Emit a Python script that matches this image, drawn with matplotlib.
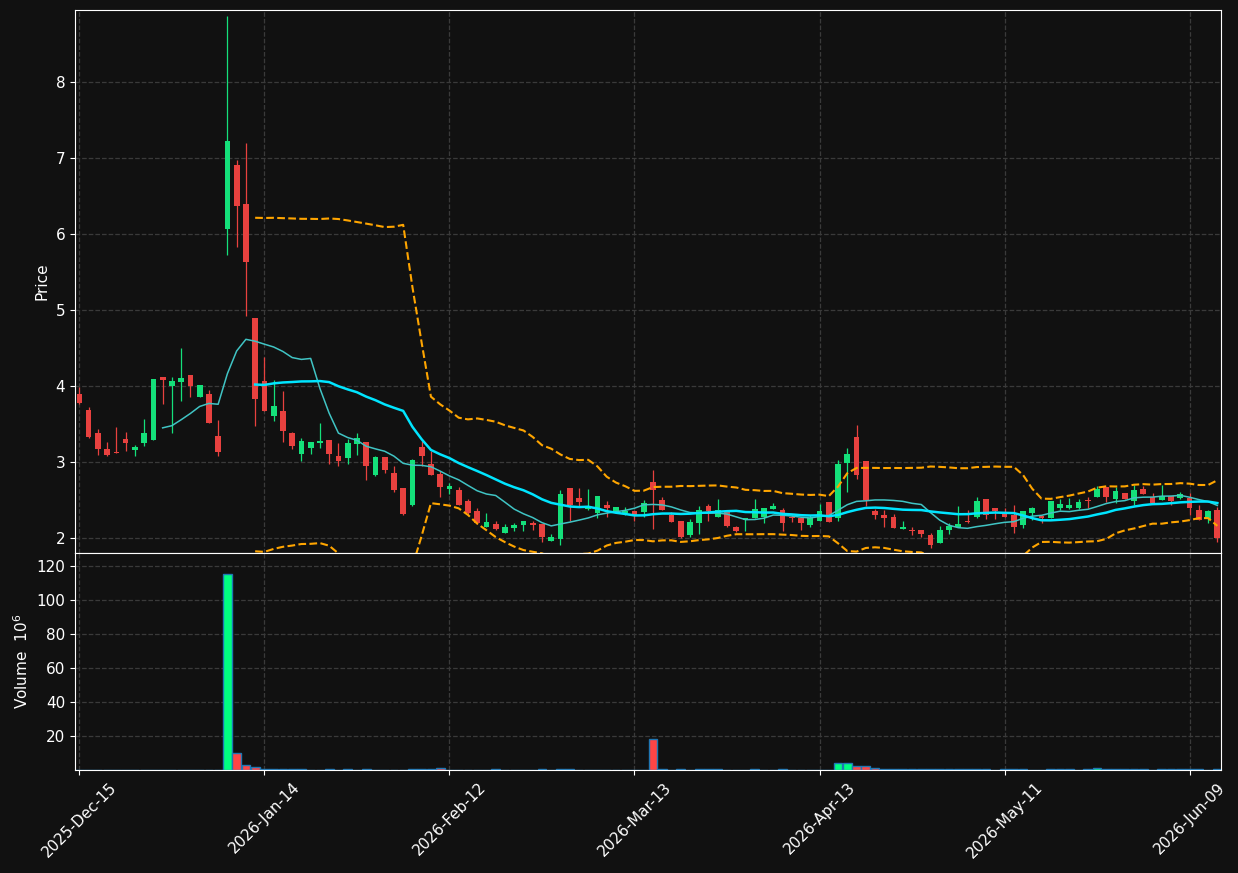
import numpy as np
import pandas as pd
import matplotlib
matplotlib.use("Agg")
from matplotlib import pyplot as plt

# trading days (US calendar)
holidays = ["2025-12-25", "2026-01-01", "2026-01-19", "2026-02-16", "2026-04-03", "2026-05-25"]
dates = pd.bdate_range("2025-12-15", "2026-06-12", freq="C", holidays=holidays)

opens = [3.90, 3.69, 3.385, 3.174, 3.13, 3.306, 3.165, 3.254, 3.296, 4.12,
         4.006, 4.057, 4.147, 3.86, 3.90, 3.343, 6.073, 6.91, 6.393, 4.898,
         4.062, 3.611, 3.672, 3.38, 3.113, 3.19, 3.25, 3.29, 3.08, 3.057,
         3.24, 3.266, 2.831, 3.064, 2.853, 2.659, 2.435, 3.20, 2.971, 2.844,
         2.646, 2.633, 2.488, 2.356, 2.149, 2.184, 2.07, 2.136, 2.176, 2.20,
         2.184, 1.965, 1.991, 2.659, 2.527, 2.387, 2.334, 2.435, 2.36, 2.325,
         2.356, 2.347, 2.738, 2.501, 2.303, 2.224, 2.04, 2.20, 2.422, 2.281,
         2.343, 2.145, 2.237, 2.259, 2.281, 2.382, 2.369, 2.27, 2.268, 2.176,
         2.229, 2.475, 2.268, 2.993, 3.332, 3.015, 2.356, 2.303, 2.277, 2.114,
         2.10, 2.105, 2.04, 1.938, 2.105, 2.149, 2.22, 2.281, 2.514, 2.396,
         2.343, 2.303, 2.176, 2.325, 2.295, 2.268, 2.396, 2.396, 2.40, 2.49,
         2.545, 2.677, 2.514, 2.589, 2.492, 2.646, 2.536, 2.501, 2.554, 2.532,
         2.532, 2.369, 2.246, 2.369]
highs = [3.99, 3.72, 3.43, 3.26, 3.46, 3.395, 3.23, 3.57, 4.095, 4.12,
         4.12, 4.50, 4.147, 4.015, 3.945, 3.55, 8.865, 6.98, 7.196, 4.898,
         4.38, 4.085, 3.93, 3.395, 3.32, 3.263, 3.51, 3.29, 3.25, 3.30,
         3.385, 3.266, 3.077, 3.064, 2.945, 2.659, 3.046, 3.279, 3.152, 2.888,
         2.72, 2.677, 2.514, 2.396, 2.33, 2.224, 2.18, 2.193, 2.224, 2.224,
         2.184, 2.06, 2.633, 2.659, 2.659, 2.646, 2.554, 2.483, 2.409, 2.409,
         2.356, 2.50, 2.897, 2.536, 2.347, 2.224, 2.246, 2.422, 2.448, 2.519,
         2.343, 2.158, 2.268, 2.51, 2.393, 2.457, 2.39, 2.31, 2.268, 2.303,
         2.448, 2.475, 3.029, 3.182, 3.49, 3.015, 2.382, 2.369, 2.316, 2.229,
         2.149, 2.105, 2.062, 2.158, 2.193, 2.422, 2.369, 2.536, 2.514, 2.396,
         2.396, 2.431, 2.356, 2.413, 2.303, 2.488, 2.51, 2.523, 2.51, 2.536,
         2.686, 2.677, 2.668, 2.589, 2.695, 2.686, 2.589, 2.695, 2.554, 2.602,
         2.589, 2.431, 2.369, 2.413]
lows = [3.77, 3.32, 3.10, 3.075, 3.12, 3.14, 3.08, 3.21, 3.296, 3.77,
        3.38, 3.81, 3.86, 3.86, 3.51, 3.075, 5.72, 5.83, 4.92, 3.48,
        3.677, 3.545, 3.27, 3.17, 3.01, 3.11, 3.19, 2.98, 2.95, 2.97,
        3.09, 2.765, 2.822, 2.853, 2.611, 2.308, 2.426, 2.95, 2.835, 2.545,
        2.58, 2.43, 2.32, 2.185, 2.149, 2.105, 2.07, 2.097, 2.097, 2.11,
        1.952, 1.965, 1.912, 2.229, 2.422, 2.369, 2.264, 2.281, 2.36, 2.303,
        2.22, 2.281, 2.114, 2.365, 2.215, 1.996, 2.018, 2.06, 2.22, 2.281,
        2.141, 2.084, 2.097, 2.259, 2.20, 2.382, 2.097, 2.207, 2.105, 2.149,
        2.229, 2.215, 2.229, 2.611, 2.782, 2.422, 2.246, 2.141, 2.136, 2.114,
        2.04, 2.018, 1.864, 1.938, 2.053, 2.149, 2.20, 2.259, 2.246, 2.246,
        2.281, 2.07, 2.127, 2.237, 2.20, 2.268, 2.369, 2.378, 2.387, 2.40,
        2.545, 2.479, 2.457, 2.514, 2.435, 2.578, 2.466, 2.501, 2.431, 2.519,
        2.303, 2.237, 2.20, 1.952]
closes = [3.78, 3.33, 3.174, 3.094, 3.12, 3.245, 3.20, 3.385, 4.095, 4.085,
          4.067, 4.109, 4.00, 4.015, 3.52, 3.136, 7.225, 6.37, 5.627, 3.836,
          3.677, 3.738, 3.41, 3.215, 3.277, 3.263, 3.277, 3.11, 3.014, 3.254,
          3.315, 2.954, 3.064, 2.901, 2.637, 2.316, 3.029, 3.086, 2.835, 2.677,
          2.686, 2.44, 2.33, 2.193, 2.211, 2.123, 2.145, 2.176, 2.224, 2.178,
          2.018, 2.013, 2.58, 2.431, 2.479, 2.413, 2.554, 2.40, 2.409, 2.356,
          2.30, 2.457, 2.637, 2.365, 2.215, 2.013, 2.215, 2.367, 2.36, 2.367,
          2.163, 2.097, 2.268, 2.382, 2.393, 2.422, 2.193, 2.265, 2.20, 2.268,
          2.356, 2.215, 2.976, 3.108, 2.831, 2.501, 2.303, 2.264, 2.136, 2.149,
          2.097, 2.06, 1.912, 2.11, 2.163, 2.185, 2.215, 2.488, 2.303, 2.36,
          2.281, 2.149, 2.356, 2.396, 2.268, 2.488, 2.455, 2.435, 2.475, 2.488,
          2.646, 2.545, 2.62, 2.514, 2.633, 2.578, 2.466, 2.558, 2.488, 2.578,
          2.40, 2.237, 2.356, 2.004]
# volume in millions
volumes = [0.05, 0.05, 0.05, 0.05, 0.05, 0.05, 0.05, 0.05, 0.05, 0.05,
           0.05, 0.05, 0.05, 0.05, 0.05, 0.05, 115.5, 9.8, 2.7, 2.0,
           0.8, 0.8, 0.4, 0.4, 0.4, 0.05, 0.05, 0.3, 0.05, 0.3,
           0.05, 0.3, 0.05, 0.05, 0.05, 0.05, 0.3, 0.3, 0.3, 1.2,
           0.05, 0.05, 0.05, 0.05, 0.05, 0.3, 0.05, 0.05, 0.05, 0.05,
           0.3, 0.05, 0.3, 0.3, 0.05, 0.05, 0.05, 0.05, 0.05, 0.05,
           0.05, 0.05, 18.5, 0.4, 0.05, 0.3, 0.05, 0.3, 0.3, 0.3,
           0.05, 0.05, 0.05, 0.3, 0.05, 0.05, 0.3, 0.05, 0.05, 0.05,
           0.05, 0.05, 4.0, 4.0, 2.6, 2.6, 1.0, 0.3, 0.3, 0.3,
           0.3, 0.3, 0.3, 0.3, 0.3, 0.3, 0.3, 0.3, 0.3, 0.05,
           0.3, 0.3, 0.3, 0.05, 0.05, 0.3, 0.3, 0.3, 0.05, 0.3,
           1.0, 0.3, 0.3, 0.3, 0.3, 0.3, 0.05, 0.3, 0.3, 0.3,
           0.3, 0.3, 0.05, 0.3]

df = pd.DataFrame({"Open": opens, "High": highs, "Low": lows, "Close": closes,
                   "Volume": volumes}, index=dates[:len(opens)])

bg = "#111111"
up_c, down_c = "#14e07a", "#e8413f"
vup_c, vdown_c = "#00ff80", "#ff4545"

x = np.arange(len(df))
o = df["Open"].values
c = df["Close"].values
up = c >= o

mav10 = df["Close"].rolling(10).mean()
mav20 = df["Close"].rolling(20).mean()
std20 = df["Close"].rolling(20).std(ddof=0)
bb_up = mav20 + 2 * std20
bb_lo = mav20 - 2 * std20

plt.rcParams["font.size"] = 11
fig = plt.figure(figsize=(12.38, 8.73), dpi=100, facecolor=bg)
ax = fig.add_axes([0.0606, 0.3666, 0.9257, 0.6219], facecolor=bg)
axv = fig.add_axes([0.0606, 0.118, 0.9257, 0.2486], facecolor=bg, sharex=ax)

# candles
ax.vlines(x[up], df["Low"].values[up], df["High"].values[up], color=up_c, lw=0.9)
ax.vlines(x[~up], df["Low"].values[~up], df["High"].values[~up], color=down_c, lw=0.9)
body = np.maximum(np.abs(c - o), 0.008)
ax.bar(x[up], body[up], bottom=np.minimum(o, c)[up], width=0.62, color=up_c, lw=0)
ax.bar(x[~up], body[~up], bottom=np.minimum(o, c)[~up], width=0.62, color=down_c, lw=0)

ax.plot(x, mav10, color="#40c4c4", lw=1.1)
ax.plot(x, mav20, color="#00e5ff", lw=1.8)
ax.plot(x, bb_up, color="#ffa500", lw=1.5, ls="--")
ax.plot(x, bb_lo, color="#ffa500", lw=1.5, ls="--")

ax.set_ylim(1.805, 8.947)
ax.set_xlim(-0.47, 123.4)
ax.set_ylabel("Price", color="white")

# volume
vol = df["Volume"].values
axv.bar(x, vol, width=0.95, color=np.where(up, vup_c, vdown_c), edgecolor="#1f77b4", lw=1)
axv.set_ylim(0, 127.6)
axv.set_yticks([20, 40, 60, 80, 100, 120])
axv.set_ylabel("Volume  $10^{6}$", color="white")

ticks = x[::20]
axv.set_xticks(ticks)
axv.set_xticklabels([d.strftime("%Y-%b-%d") for d in df.index[::20]],
                    rotation=45, ha="center")
plt.setp(ax.get_xticklabels(), visible=False)

for a in (ax, axv):
    a.grid(True, color="#3a3a3a", ls="--", lw=0.9)
    a.set_axisbelow(True)
    a.tick_params(colors="white", labelsize=11)
    for s in a.spines.values():
        s.set_color("white")
ax.tick_params(axis="x", length=0)

fig.savefig("out.png", dpi=100, facecolor=bg)
